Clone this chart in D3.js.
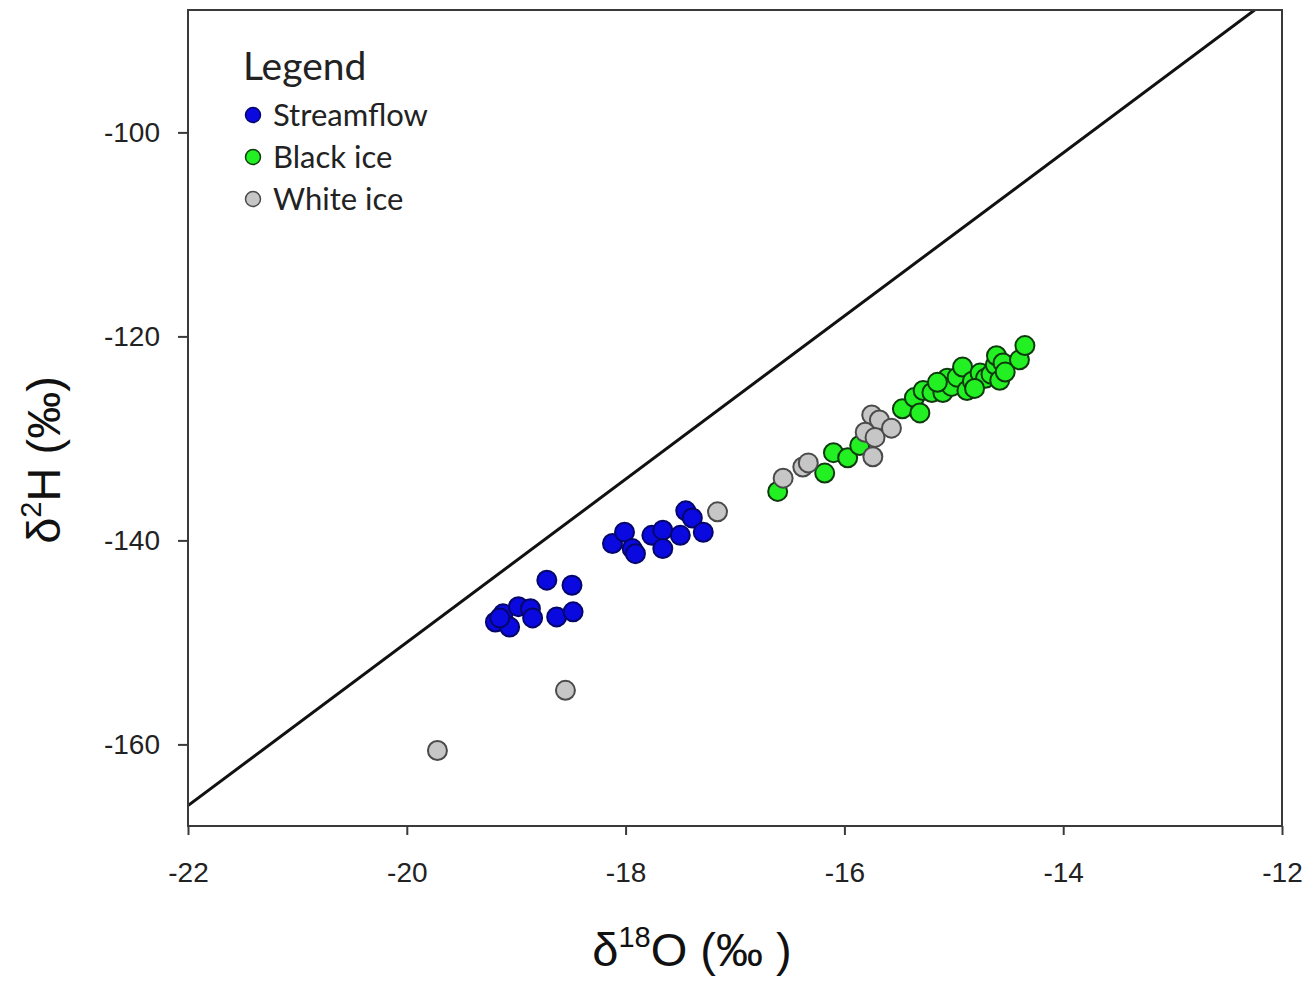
<!DOCTYPE html>
<html>
<head>
<meta charset="utf-8">
<script src="https://cdn.jsdelivr.net/npm/d3@7"></script>
<style>
  html, body { margin: 0; padding: 0; background: #fff; }
  svg { display: block; }
</style>
</head>
<body>
<svg id="chart" width="1310" height="981"></svg>
<script>
// δ18O / δ2H sample values (‰)
const streamflowX = [-18.72, -18.49, -19.19, -19.12, -19.06, -18.98, -18.87, -18.85, -18.63, -18.48, -19.15,
                     -18.12, -18.01, -17.94, -17.91, -17.76, -17.66, -17.66, -17.50, -17.45, -17.39, -17.29];
const streamflowY = [-143.9, -144.4, -148.0, -147.2, -148.5, -146.5, -146.7, -147.6, -147.5, -147.0, -147.6,
                     -140.3, -139.2, -140.8, -141.3, -139.5, -139.0, -140.8, -139.5, -137.1, -137.8, -139.2];

const blackIceX = [-16.61, -16.18, -16.10, -15.97, -15.86, -15.47, -15.36, -15.31, -15.28, -15.20, -15.10,
                   -15.06, -15.02, -14.97, -14.92, -14.88, -14.83, -14.76, -14.71, -14.66, -14.62, -14.61,
                   -14.58, -14.55, -14.40, -14.35, -15.15, -14.81, -14.53];
const blackIceY = [-135.2, -133.4, -131.4, -131.9, -130.7, -127.1, -126.0, -127.5, -125.3, -125.5, -125.5,
                   -124.1, -124.9, -124.0, -123.0, -125.3, -124.4, -123.6, -124.1, -123.7, -122.8, -121.9,
                   -124.3, -122.6, -122.3, -120.9, -124.5, -125.1, -123.5];

const whiteIceX = [-19.72, -18.55, -17.16, -16.56, -16.38, -16.33, -15.75, -15.68, -15.81, -15.72, -15.57, -15.74];
const whiteIceY = [-160.6, -154.7, -137.2, -133.9, -132.8, -132.4, -127.7, -128.2, -129.4, -129.9, -129.0, -131.8];

// Global meteoric water line: δ2H = 8·δ18O + 10
const gmwlSlope = 8;
const gmwlIntercept = 10;

const xTicks = [-22, -20, -18, -16, -14, -12];
const yTicks = [-160, -140, -120, -100];
const xDomain = [-22, -12];
const yDomain = [-168, -88];

const seriesNames = ["Streamflow", "Black ice", "White ice"];
const seriesFill = ["#0a0ae0", "#22f022", "#c6c6c6"];
const seriesStroke = ["#06066a", "#0e3a0e", "#4a4a4a"];

const series = [
  { name: seriesNames[0], xs: streamflowX, ys: streamflowY },
  { name: seriesNames[1], xs: blackIceX, ys: blackIceY },
  { name: seriesNames[2], xs: whiteIceX, ys: whiteIceY }
];

const svg = d3.select("#chart");
const plotL = 188, plotR = 1282, plotT = 10, plotB = 826;

const x = d3.scaleLinear().domain(xDomain).range([plotL, plotR]);
const y = d3.scaleLinear().domain(yDomain).range([plotB, plotT]);

svg.append("defs").append("clipPath").attr("id", "plotClip")
  .append("rect").attr("x", plotL).attr("y", plotT)
  .attr("width", plotR - plotL).attr("height", plotB - plotT);

// meteoric water line
const lineXs = [xDomain[0], xDomain[1]];
svg.append("path")
  .attr("clip-path", "url(#plotClip)")
  .attr("d", d3.line().x(d => x(d)).y(d => y(gmwlSlope * d + gmwlIntercept))(lineXs))
  .attr("fill", "none").attr("stroke", "#111").attr("stroke-width", 3);

// points
series.forEach((s, i) => {
  const pts = s.xs.map((v, j) => [v, s.ys[j]]);
  svg.append("g").selectAll("circle").data(pts).join("circle")
    .attr("cx", d => x(d[0])).attr("cy", d => y(d[1]))
    .attr("r", 9.5)
    .attr("fill", seriesFill[i])
    .attr("stroke", seriesStroke[i]).attr("stroke-width", 2);
});

// frame
svg.append("rect").attr("x", plotL).attr("y", plotT)
  .attr("width", plotR - plotL).attr("height", plotB - plotT)
  .attr("fill", "none").attr("stroke", "#3a3a3a").attr("stroke-width", 2);

// axes (plain hyphen for negative labels)
const fmt = d => String(d);
const xAxis = svg.append("g").attr("transform", `translate(0,${plotB})`)
  .call(d3.axisBottom(x).tickValues(xTicks).tickSize(9).tickSizeOuter(0).tickFormat(fmt));
const yAxis = svg.append("g").attr("transform", `translate(${plotL},0)`)
  .call(d3.axisLeft(y).tickValues(yTicks).tickSize(10).tickSizeOuter(0).tickFormat(fmt));

[xAxis, yAxis].forEach(g => {
  g.select(".domain").remove();
  g.selectAll(".tick line").attr("stroke", "#3a3a3a").attr("stroke-width", 2);
  g.selectAll(".tick text")
    .attr("font-family", "'Liberation Sans', Arial, sans-serif")
    .attr("font-size", 28).attr("fill", "#222");
});
xAxis.selectAll(".tick text").attr("y", 36).attr("dy", "0.71em");
yAxis.selectAll(".tick text").attr("x", -28);

// axis titles
const xt = svg.append("text")
  .attr("x", 692).attr("y", 966)
  .attr("text-anchor", "middle")
  .attr("font-family", "'Liberation Sans', Arial, sans-serif")
  .attr("font-size", 47).attr("fill", "#111");
xt.append("tspan").text("δ");
xt.append("tspan").attr("font-size", 29).attr("dy", -19).text("18");
xt.append("tspan").attr("dy", 19).text("O (‰ )");

const yt = svg.append("text")
  .attr("transform", "translate(60,460) rotate(-90)")
  .attr("text-anchor", "middle")
  .attr("font-family", "'Liberation Sans', Arial, sans-serif")
  .attr("font-size", 47).attr("fill", "#111");
yt.append("tspan").text("δ");
yt.append("tspan").attr("font-size", 29).attr("dy", -19).text("2");
yt.append("tspan").attr("dy", 19).text("H (‰)");

// legend
const lg = svg.append("g");
lg.append("text").attr("x", 243).attr("y", 80)
  .attr("font-family", "Lato, 'Open Sans', sans-serif")
  .attr("font-size", 39).attr("fill", "#222").text("Legend");
seriesNames.forEach((n, i) => {
  const cy = 115 + i * 42;
  lg.append("circle").attr("cx", 253).attr("cy", cy).attr("r", 7.5)
    .attr("fill", seriesFill[i]).attr("stroke", seriesStroke[i]).attr("stroke-width", 1.5);
  lg.append("text").attr("x", 273).attr("y", cy + 11)
    .attr("font-family", "Lato, 'Open Sans', sans-serif")
    .attr("font-size", 31).attr("fill", "#222").text(n);
});
</script>
</body>
</html>
